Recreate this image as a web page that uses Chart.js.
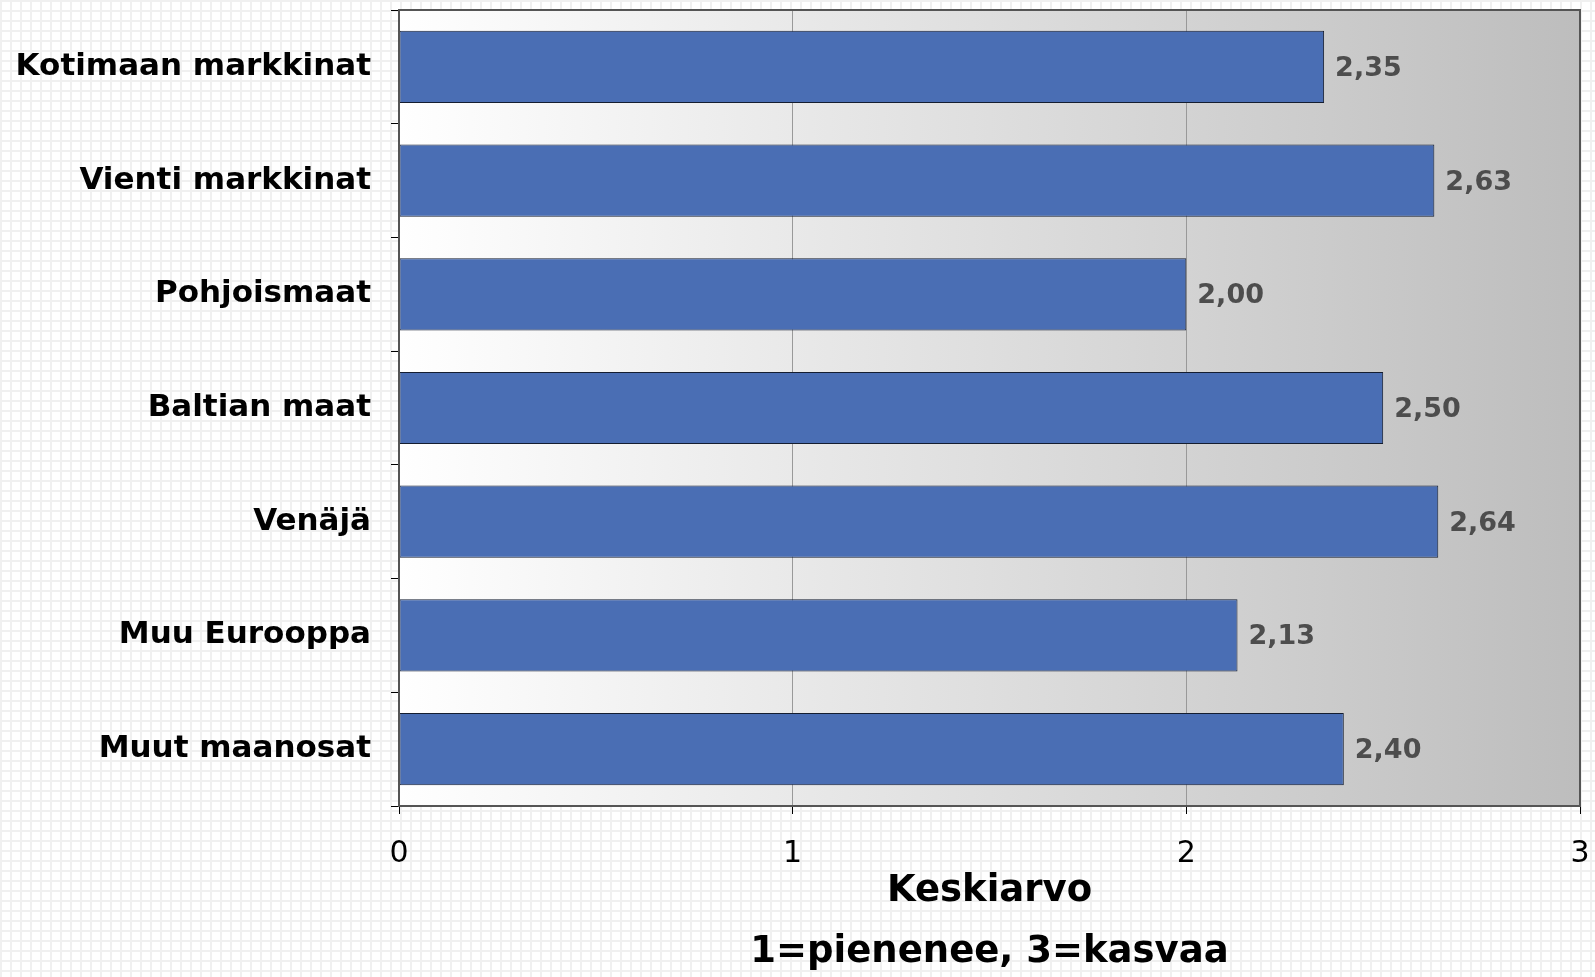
<!DOCTYPE html>
<html>
<head>
<meta charset="utf-8">
<script src="https://cdn.jsdelivr.net/npm/chart.js@4/dist/chart.umd.min.js"></script>
<style>
  html, body { margin: 0; padding: 0; }
  body {
    width: 1595px; height: 977px; overflow: hidden;
    background-color: #ffffff;
    background-image:
      linear-gradient(#f0f0f0 2px, transparent 2px),
      linear-gradient(90deg, #f0f0f0 2px, transparent 2px);
    background-size: 10px 10px;
  }
  #wrap { position: relative; width: 1595px; height: 977px; }
</style>
</head>
<body>
<div id="wrap"><canvas id="chart"></canvas></div>
<script>
const categories = ['Kotimaan markkinat', 'Vienti markkinat', 'Pohjoismaat', 'Baltian maat', 'Venäjä', 'Muu Eurooppa', 'Muut maanosat'];
const averages = [2.35, 2.63, 2.00, 2.50, 2.64, 2.13, 2.40];
const xTicks = [0, 1, 2, 3];
const axisTitle = ['Keskiarvo', '1=pienenee, 3=kasvaa'];

const FONT = "'DejaVu Sans', Verdana, sans-serif";

// gradient behind the plot area + frame
const plotBackground = {
    id: 'plotBackground',
    beforeDraw(chart) {
        const { ctx, chartArea: a } = chart;
        const g = ctx.createLinearGradient(a.left, 0, a.right, 0);
        g.addColorStop(0, '#ffffff');
        g.addColorStop(1, '#bdbdbd');
        ctx.save();
        ctx.fillStyle = g;
        ctx.fillRect(a.left, a.top, a.right - a.left, a.bottom - a.top);
        ctx.restore();
    },
    afterDraw(chart) {
        const { ctx, chartArea: a } = chart;
        ctx.save();
        ctx.strokeStyle = '#555555';
        ctx.lineWidth = 2;
        ctx.strokeRect(a.left, a.top, a.right - a.left, a.bottom - a.top);
        ctx.restore();
    }
};

// value labels right of each bar
const valueLabels = {
    id: 'valueLabels',
    afterDatasetsDraw(chart) {
        const { ctx } = chart;
        const meta = chart.getDatasetMeta(0);
        ctx.save();
        ctx.font = 'bold 27px ' + FONT;
        ctx.fillStyle = '#4d4d4d';
        ctx.textAlign = 'left';
        ctx.textBaseline = 'middle';
        meta.data.forEach((bar, i) => {
            const txt = averages[i].toFixed(2).replace('.', ',');
            ctx.fillText(txt, bar.x + 11, bar.y + 2);
        });
        ctx.restore();
    }
};

const ctx = document.getElementById('chart').getContext('2d');
new Chart(ctx, {
    type: 'bar',
    data: {
        labels: categories,
        datasets: [{
            data: averages,
            backgroundColor: '#4a6eb4',
            borderColor: '#141d30',
            borderWidth: 1,
            borderSkipped: false,
            categoryPercentage: 1,
            barPercentage: 0.635
        }]
    },
    options: {
        indexAxis: 'y',
        responsive: true,
        maintainAspectRatio: false,
        animation: false,
        layout: { padding: { top: 10, right: 15, left: 0, bottom: 0 } },
        plugins: {
            legend: { display: false },
            tooltip: { enabled: false }
        },
        scales: {
            x: {
                min: 0,
                max: 3,
                afterFit: (scale) => {
                    scale.height = 171;
                    scale.paddingLeft = 0;
                    scale.paddingRight = 0;
                },
                afterBuildTicks: (scale) => { scale.ticks = xTicks.map(v => ({ value: v })); },
                grid: {
                    color: '#999999',
                    lineWidth: 1,
                    tickColor: '#000000',
                    tickLength: 8
                },
                border: { display: true, color: '#000000', width: 2 },
                ticks: {
                    color: '#000000',
                    padding: 22,
                    font: { family: FONT, size: 30 }
                },
                title: {
                    display: true,
                    text: axisTitle,
                    color: '#000000',
                    font: { family: FONT, size: 37, weight: 'bold', lineHeight: 1.65 },
                    padding: { top: 0, bottom: -6 }
                }
            },
            y: {
                afterFit: (scale) => {
                    scale.width = 399;
                    scale.paddingTop = 0;
                    scale.paddingBottom = 0;
                },
                grid: {
                    offset: true,
                    drawOnChartArea: false,
                    tickColor: '#000000',
                    tickLength: 8
                },
                border: { display: true, color: '#000000', width: 2 },
                ticks: {
                    color: '#000000',
                    padding: 20,
                    font: { family: FONT, size: 31, weight: 'bold' }
                }
            }
        }
    },
    plugins: [plotBackground, valueLabels]
});
</script>
</body>
</html>
